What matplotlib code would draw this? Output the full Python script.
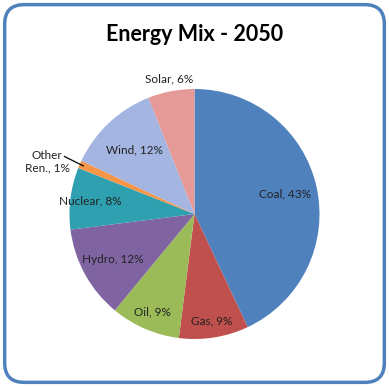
import numpy as np
import matplotlib.pyplot as plt
from matplotlib.patches import FancyBboxPatch

# data
labels = ['Coal', 'Gas', 'Oil', 'Hydro', 'Nuclear', 'Other\nRen.', 'Wind', 'Solar']
shares = [43, 9, 9, 12, 8, 1, 12, 6]
colors = ['#4F81BD', '#C0504D', '#9BBB59', '#8064A2', '#2FA0B0', '#F79646', '#A3B5E0', '#E59A98']

# label radius as fraction of pie radius
label_r = [0.74, 0.87, 0.85, 0.75, 0.84, None, 0.70, 1.10]

fig = plt.figure(figsize=(3.89, 3.87), dpi=100)
plt.rcParams['font.family'] = ['Lato', 'DejaVu Sans']

# rounded frame
frame = FancyBboxPatch((0.012, 0.012), 0.976, 0.976,
                       boxstyle='round,pad=0,rounding_size=0.05',
                       transform=fig.transFigure, facecolor='none',
                       edgecolor='#4F81BD', linewidth=2.5, zorder=-1)
fig.patches.append(frame)

fig.text(0.5, 0.912, 'Energy Mix - 2050', ha='center', va='center',
         fontsize=15.5, fontweight='bold')

R = 125 / 389
ax = fig.add_axes([0.5 - R, (387 - 214) / 387 - R * 389 / 387, 2 * R, 2 * R * 389 / 387])
wedges, _ = ax.pie(shares, colors=colors, startangle=90, counterclock=False,
                   wedgeprops=dict(linewidth=0))
ax.set_xlim(-1, 1)
ax.set_ylim(-1, 1)
ax.set_aspect('equal')
ax.axis('off')

for w, lab, s, r in zip(wedges, labels, shares, label_r):
    mid = np.deg2rad((w.theta1 + w.theta2) / 2)
    if r is None:
        # outside label with leader line
        ax.text(-1.18, 0.42, f'{lab}, {s}%', ha='center', va='center',
                fontsize=8.5, color='#222222')
        ax.plot([-1.04, 0.97 * np.cos(mid)], [0.46, 0.97 * np.sin(mid)],
                color='black', lw=0.9, clip_on=False)
        continue
    ax.text(r * np.cos(mid), r * np.sin(mid), f'{lab}, {s}%', ha='center',
            va='center', fontsize=8.5, color='#222222')

plt.savefig('out.png', dpi=100)
